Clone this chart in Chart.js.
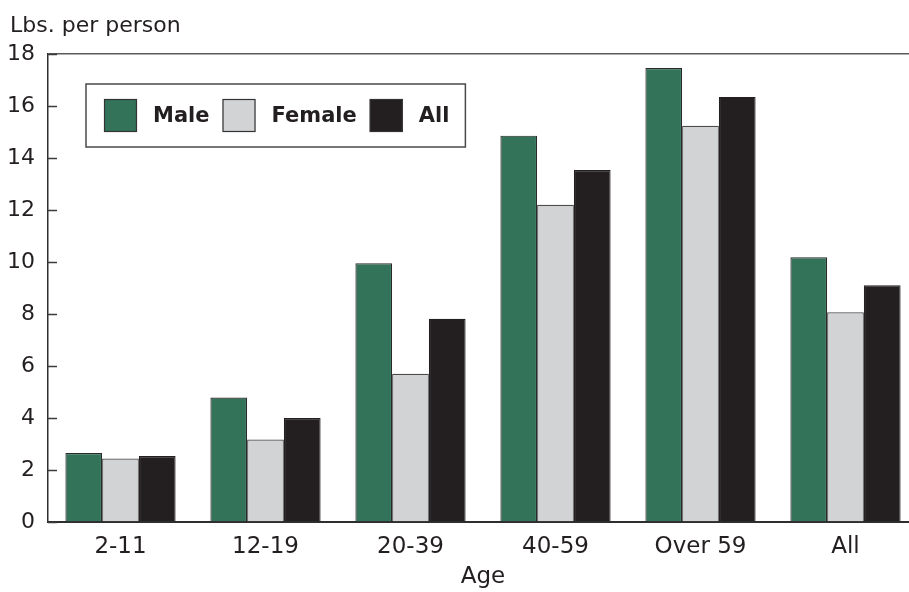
<!DOCTYPE html>
<html>
<head>
<meta charset="utf-8">
<script src="https://cdn.jsdelivr.net/npm/chart.js@4.4.1/dist/chart.umd.min.js"></script>
<style>
  html, body { margin: 0; padding: 0; background: #ffffff; overflow: hidden; }
  #wrap { width: 918px; height: 592px; position: relative; }
</style>
</head>
<body>
<div id="wrap"><canvas id="c" width="918" height="592"></canvas></div>
<script>
// Age groups along the x axis
const ageGroups = ['2-11', '12-19', '20-39', '40-59', 'Over 59', 'All'];

// Pounds per person, by sex
const maleValues   = [2.65, 4.79, 9.95, 14.86, 17.46, 10.18];
const femaleValues = [2.44, 3.17, 5.70, 12.20, 15.24, 8.07];
const allValues    = [2.54, 4.00, 7.82, 13.54, 16.35, 9.11];

// Y axis range and step
const yMin = 0;
const yMax = 18;
const yStep = 2;

const seriesNames = ['Male', 'Female', 'All'];

const FONT = '"DejaVu Sans", "Liberation Sans", sans-serif';
const TEXT = '#231f20';

// Axis title above the y axis, inner tick marks and the framed legend
const decorations = {
  id: 'decorations',
  afterDraw(chart) {
    const { ctx, chartArea, scales } = chart;
    const y = scales.y;
    ctx.save();

    // unit label
    ctx.font = '22px ' + FONT;
    ctx.fillStyle = TEXT;
    ctx.textAlign = 'left';
    ctx.textBaseline = 'alphabetic';
    ctx.fillText('Lbs. per person', 10, 32);

    // inward tick marks on the y axis
    ctx.strokeStyle = '#3a3a3a';
    ctx.lineWidth = 1.5;
    y.ticks.forEach(t => {
      const py = Math.round(y.getPixelForValue(t.value)) + 0.5;
      ctx.beginPath();
      ctx.moveTo(chartArea.left, py);
      ctx.lineTo(chartArea.left + 9, py);
      ctx.stroke();
    });

    // legend box
    const ds = chart.data.datasets;
    const boxX = 86, boxY = 84, boxH = 63;
    const sw = 33, padL = 18, gapText = 16, gapNext = 13, padR = 16;
    ctx.font = 'bold 21px ' + FONT;
    let w = padL;
    ds.forEach((d, i) => {
      w += sw + gapText + ctx.measureText(d.label).width;
      w += (i < ds.length - 1) ? gapNext : padR;
    });
    ctx.fillStyle = '#ffffff';
    ctx.fillRect(boxX, boxY, w, boxH);
    ctx.strokeStyle = '#4a4a4a';
    ctx.lineWidth = 1.5;
    ctx.strokeRect(boxX, boxY, w, boxH);

    let x = boxX + padL;
    const sy = boxY + (boxH - sw) / 2;
    ds.forEach((d, i) => {
      ctx.fillStyle = d.backgroundColor;
      ctx.fillRect(x, sy, sw, sw);
      ctx.strokeStyle = '#333333';
      ctx.lineWidth = 1.2;
      ctx.strokeRect(x + 0.5, sy + 0.5, sw - 1, sw - 1);
      x += sw + gapText;
      ctx.fillStyle = TEXT;
      ctx.textBaseline = 'middle';
      ctx.fillText(d.label, x, boxY + boxH / 2 + 1);
      x += ctx.measureText(d.label).width + gapNext;
    });
    ctx.restore();
  }
};

new Chart(document.getElementById('c'), {
  type: 'bar',
  data: {
    labels: ageGroups,
    datasets: [
      { label: seriesNames[0], data: maleValues,   backgroundColor: '#33735a', borderColor: '#2a2a2a', borderWidth: 1.2 },
      { label: seriesNames[1], data: femaleValues, backgroundColor: '#d1d3d4', borderColor: '#4a4a4a', borderWidth: 1.2 },
      { label: seriesNames[2], data: allValues,    backgroundColor: '#231f20', borderColor: '#231f20', borderWidth: 1.2 }
    ]
  },
  options: {
    responsive: false,
    animation: false,
    devicePixelRatio: 1,
    layout: { padding: { top: 54, left: 0, right: 0, bottom: 0 } },
    datasets: { bar: { categoryPercentage: 0.76, barPercentage: 1.0 } },
    plugins: {
      legend: { display: false },
      tooltip: { enabled: false }
    },
    scales: {
      x: {
        grid: { display: false, drawTicks: false },
        border: { display: true, color: '#2e2e2e', width: 2 },
        ticks: { color: TEXT, font: { family: FONT, size: 23 }, padding: 11 },
        title: { display: true, text: 'Age', color: TEXT, font: { family: FONT, size: 23 }, padding: { top: 0, bottom: 1 } },
        afterFit(scale) { scale.height = 70; }
      },
      y: {
        min: yMin,
        max: yMax,
        ticks: { stepSize: yStep, color: TEXT, font: { family: FONT, size: 22 }, padding: 13 },
        grid: {
          drawTicks: false,
          color: ctx => (ctx.tick && ctx.tick.value === yMax) ? '#5a5a5a' : 'rgba(0,0,0,0)',
          lineWidth: 1.5
        },
        border: { display: true, color: '#2e2e2e', width: 1.5 },
        afterFit(scale) { scale.width = 48; }
      }
    }
  },
  plugins: [decorations]
});
</script>
</body>
</html>
